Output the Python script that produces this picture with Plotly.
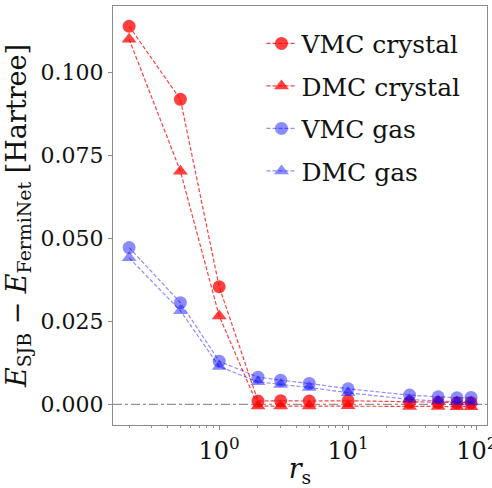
import plotly.graph_objects as go

rs = [0.2, 0.5, 1, 2, 3, 5, 10, 30, 50, 70, 90]
vmc_crystal = [0.1138, 0.0918, 0.0354, 0.0010, 0.0011, 0.0010, 0.0011, 0.0007, 0.0006, 0.0005, 0.0005]
dmc_crystal = [0.1099, 0.0702, 0.0266, -0.0005, -0.0005, -0.0005, -0.0004, -0.0006, -0.0006, -0.0007, -0.0007]
vmc_gas = [0.0472, 0.0306, 0.0130, 0.0082, 0.0073, 0.0063, 0.0047, 0.0028, 0.0023, 0.0020, 0.0021]
dmc_gas = [0.0441, 0.0282, 0.0114, 0.0068, 0.0060, 0.0051, 0.0035, 0.0015, 0.0010, 0.0007, 0.0007]

names = ["VMC crystal", "DMC crystal", "VMC gas", "DMC gas"]
series = [vmc_crystal, dmc_crystal, vmc_gas, dmc_gas]
yticks = [0.0, 0.025, 0.05, 0.075, 0.1]
xticks = [1, 10, 100]
xticktext = ["10<sup>0</sup>", "10<sup>1</sup>", "10<sup>2</sup>"]
xminor = [0.2, 0.3, 0.4, 0.5, 0.6, 0.7, 0.8, 0.9, 2, 3, 4, 5, 6, 7, 8, 9,
          20, 30, 40, 50, 60, 70, 80, 90]

FONT = "DejaVu Serif"
red_m = "rgba(255,0,0,0.75)"
red_l = "rgba(255,0,0,0.75)"
blue_m = "rgba(0,0,255,0.45)"
blue_l = "rgba(0,0,255,0.45)"
styles = [
    (red_m, red_l, "circle"),
    (red_m, red_l, "triangle-up"),
    (blue_m, blue_l, "circle"),
    (blue_m, blue_l, "triangle-up"),
]

fig = go.Figure()
for i, (name, ys, (mc, lc, sym)) in enumerate(zip(names, series, styles)):
    fig.add_trace(go.Scatter(
        x=rs, y=ys, name=name, mode="lines+markers",
        line=dict(color=lc, width=1.2, dash="4px,2px"),
        marker=dict(color=mc, size=13, symbol=sym, line=dict(width=0)),
        legendgroup=str(i),
    ))

fig.add_hline(y=0, line=dict(color="rgba(120,120,120,0.8)", width=1.2, dash="dashdot"), layer="below")

axis_common = dict(
    showline=True, linecolor="#8c8c8c", linewidth=1.3, mirror=True,
    ticks="outside", ticklen=4, tickcolor="#8c8c8c", tickwidth=1,
    showgrid=False, zeroline=False, automargin=False,
    ticklabeloverflow="allow",
)

fig.update_layout(
    width=492, height=488,
    margin=dict(l=113, r=5, t=6, b=63),
    paper_bgcolor="white", plot_bgcolor="white",
    font=dict(family=FONT, color="#111"),
    xaxis=dict(
        type="log", range=[-0.824, 2.078], tickvals=xticks, ticktext=xticktext,
        tickfont=dict(family=FONT, size=24, color="#111"),
        title=dict(text="<i>r</i><sub>s</sub>", font=dict(family=FONT, size=27), standoff=8),
        minor=dict(ticks="outside", ticklen=2, tickcolor="#8c8c8c", tickvals=xminor, showgrid=False),
        **axis_common,
    ),
    yaxis=dict(
        range=[-0.0062, 0.1199], tickvals=yticks, tickformat=".3f",
        tickfont=dict(family=FONT, size=22, color="#111"),
        title=dict(text="<i>E</i><sub>SJB</sub> − <i>E</i><sub>FermiNet</sub> [Hartree]",
                   font=dict(family=FONT, size=27), standoff=6),
        **axis_common,
    ),
    legend=dict(
        x=0.397, y=0.965, xanchor="left", yanchor="top",
        bgcolor="rgba(0,0,0,0)", borderwidth=0,
        font=dict(family=FONT, size=25, color="#111"),
        tracegroupgap=7,
    ),
    showlegend=True,
)

fig.write_html("out.html")
